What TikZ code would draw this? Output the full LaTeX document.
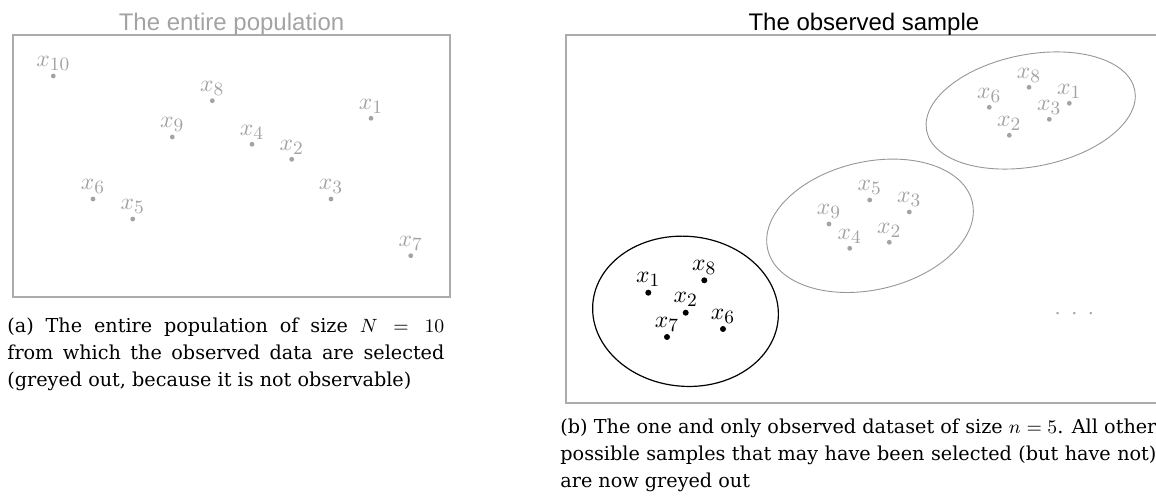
\RequirePackage{fix-cm}
\documentclass[tikz,border=0pt]{standalone}
\usepackage{fontspec}
\setsansfont{Liberation Sans}
\newfontfamily\capfont{DejaVu Serif}
\usepackage{xcolor}
\usepackage{tikz}
\usetikzlibrary{shapes.geometric, positioning}
\DeclareMathSizes{11.8}{11.8}{9.4}{7}
\definecolor{greyout}{RGB}{163,163,163}
\definecolor{framegrey}{RGB}{172,172,172}
\definecolor{ringgrey}{RGB}{150,150,150}
\tikzstyle{frame} = [rectangle, draw=framegrey, line width=1pt, inner sep=0pt]
\tikzstyle{paneltitle} = [font=\sffamily\fontsize{12}{14}\selectfont, inner sep=0pt]
\tikzstyle{greydot} = [circle, fill=greyout, inner sep=0pt, minimum size=2.4pt, label distance=0.4pt]
\tikzstyle{obsdot} = [circle, fill=black, inner sep=0pt, minimum size=3pt, label distance=0.4pt]
\tikzstyle{greylbl} = [text=greyout, inner sep=1pt, font=\fontsize{11.8}{13}\selectfont]
\tikzstyle{obslbl} = [text=black, inner sep=1pt, font=\fontsize{11.8}{13}\selectfont]
\tikzstyle{greyring} = [ellipse, draw=ringgrey, line width=0.45pt, inner sep=0pt]
\tikzstyle{obsring} = [ellipse, draw=black, line width=0.6pt, inner sep=0pt]
\tikzstyle{caption} = [anchor=north west, inner sep=0pt, align=justify, font=\capfont\fontsize{9.6}{13.5}\selectfont]

\begin{document}
\begin{tikzpicture}[x=0.5pt, y=-0.5pt]
\useasboundingbox (0,0) rectangle (1156,501);
\clip (0,0) rectangle (1156,501);

% (a) population
\node[frame, minimum width=218.5pt, minimum height=131pt] (popframe) at (231.5,166) {};
\node[paneltitle, text=greyout, above=1.8pt of popframe, anchor=base] (poptitle) {The entire population};

\node[greydot, label={[greylbl]above:$x_{10}$}] (p10) at (53.3,76) {};
\node[greydot, label={[greylbl]above:$x_{8}$}] (p8) at (212.3,100.7) {};
\node[greydot, label={[greylbl]above:$x_{1}$}] (p1) at (371,118.3) {};
\node[greydot, label={[greylbl]above:$x_{9}$}] (p9) at (172.3,137) {};
\node[greydot, label={[greylbl]above:$x_{4}$}] (p4) at (252,144.3) {};
\node[greydot, label={[greylbl]above:$x_{2}$}] (p2) at (291.7,159.3) {};
\node[greydot, label={[greylbl]above:$x_{6}$}] (p6) at (93,199) {};
\node[greydot, label={[greylbl]above:$x_{3}$}] (p3) at (331,199) {};
\node[greydot, label={[greylbl]above:$x_{5}$}] (p5) at (132.7,219) {};
\node[greydot, label={[greylbl]above:$x_{7}$}] (p7) at (410.7,255.7) {};

\node[caption, text width=218.5pt] (capa) at (7,318) {(a) The entire population of size $N = 10$\linebreak from which the observed data are selected\linebreak (greyed out, because it is not observable)};

% (b) observed sample
\node[frame, minimum width=298.2pt, minimum height=183.8pt] (smpframe) at (863.9,219) {};
\node[paneltitle, above=1.8pt of smpframe, anchor=base] (smptitle) {The observed sample};

\node[obsring, minimum width=93pt, minimum height=75pt, rotate=-5] (obsset) at (685.5,311.3) {};
\node[greyring, minimum width=105pt, minimum height=64pt, rotate=13] (othset) at (870,225.8) {};
\node[greyring, minimum width=106pt, minimum height=56pt, rotate=11] (oth2set) at (1030.7,110.5) {};

\node[obsdot, label={[obslbl]above:$x_{1}$}] (s1) at (648.3,292.7) {};
\node[obsdot, label={[obslbl]above:$x_{8}$}] (s8) at (704.3,280.3) {};
\node[obsdot, label={[obslbl]above:$x_{2}$}] (s2) at (685.7,312.7) {};
\node[obsdot, label={[obslbl]above:$x_{6}$}] (s6) at (723,329) {};
\node[obsdot, label={[obslbl]above:$x_{7}$}] (s7) at (667,337) {};

\node[greydot, label={[greylbl]above:$x_{9}$}] (m9) at (829,224) {};
\node[greydot, label={[greylbl]above:$x_{4}$}] (m4) at (849.7,248.3) {};
\node[greydot, label={[greylbl]above:$x_{5}$}] (m5) at (869.7,200) {};
\node[greydot, label={[greylbl]above:$x_{3}$}] (m3) at (909.3,212) {};
\node[greydot, label={[greylbl]above:$x_{2}$}] (m2) at (889.3,242.3) {};

\node[greydot, label={[greylbl]above:$x_{6}$}] (u6) at (989.3,107.3) {};
\node[greydot, label={[greylbl]above:$x_{8}$}] (u8) at (1029,87.3) {};
\node[greydot, label={[greylbl]above:$x_{1}$}] (u1) at (1069.3,103.3) {};
\node[greydot, label={[greylbl]above:$x_{3}$}] (u3) at (1049.3,119.3) {};
\node[greydot, label={[greylbl]above:$x_{2}$}] (u2) at (1009.3,135.3) {};

\node[greylbl] (moresmp) at (1074.3,314) {$\cdot$\hspace{5pt}$\cdot$\hspace{5pt}$\cdot$};

\node[caption, text width=298pt] (capb) at (560,419) {(b) The one and only observed dataset of size $n = 5$. All other\linebreak possible samples that may have been selected (but have not)\linebreak are now greyed out};
\end{tikzpicture}
\end{document}
